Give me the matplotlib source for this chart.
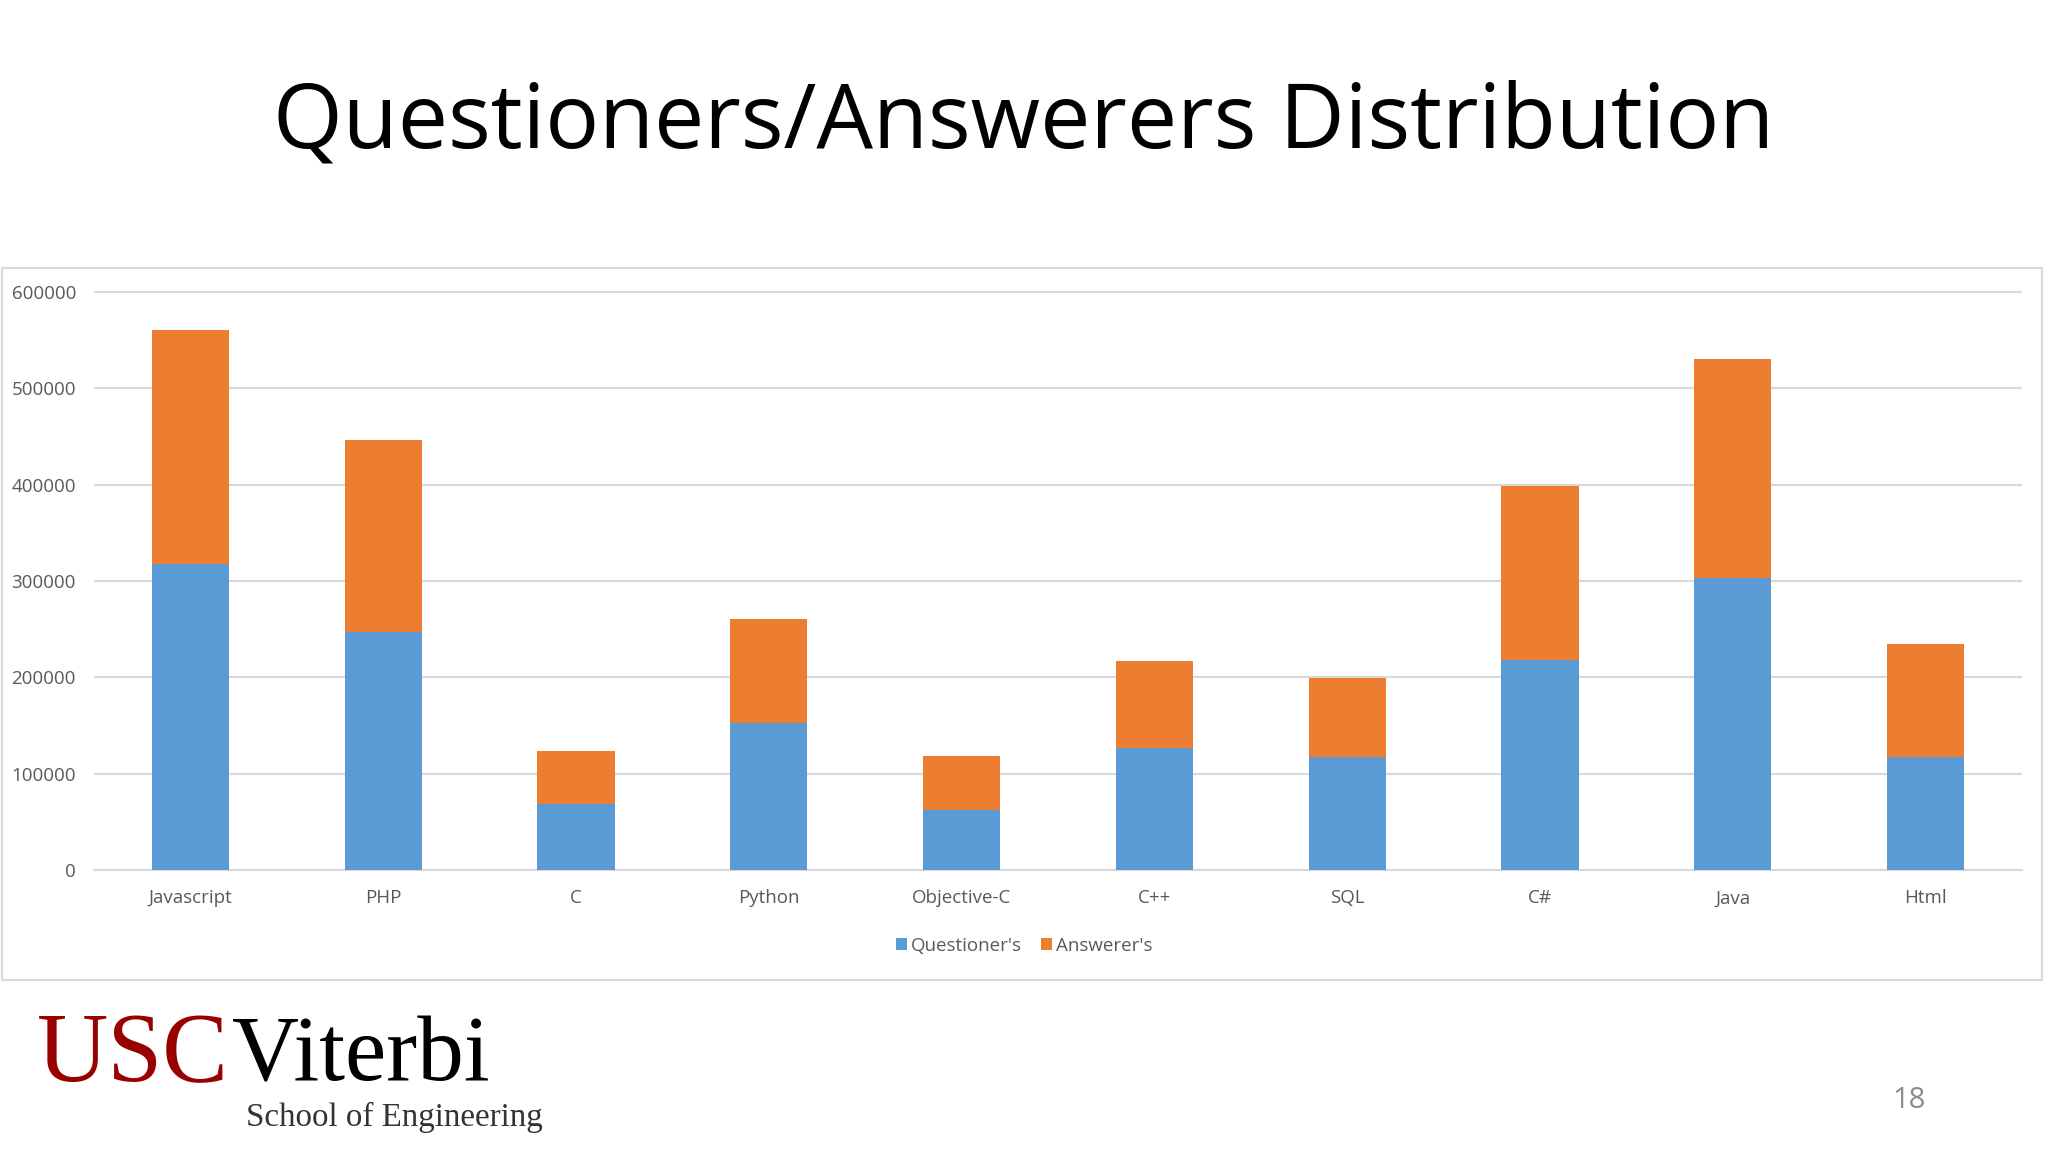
import matplotlib
matplotlib.use("Agg")
import matplotlib.pyplot as plt
from matplotlib.patches import Rectangle

# data
languages = ["Javascript", "PHP", "C", "Python", "Objective-C", "C++", "SQL", "C#", "Java", "Html"]
questioners = [317500, 246800, 68600, 152400, 62700, 127000, 117700, 218000, 303100, 117700]
answerers = [243500, 199900, 55000, 108000, 55800, 90200, 82100, 180800, 227800, 116800]
yticks = [0, 100000, 200000, 300000, 400000, 500000, 600000]

blue = "#5B9BD5"
orange = "#ED7D31"
grey_txt = "#595959"
grid_col = "#D9D9D9"

plt.rcParams["font.family"] = ["Open Sans", "DejaVu Sans"]

fig = plt.figure(figsize=(20.48, 11.52), dpi=100)
fig.patch.set_facecolor("white")

# slide title
fig.text(0.5, 1 - 124 / 1152, "Questioners/Answerers Distribution", ha="center", va="center",
         fontsize=64.5, color="black")

# chart frame
fig.patches.append(Rectangle((0.001, 1 - 980 / 1152), 0.996, (980 - 268) / 1152,
                             transform=fig.transFigure, fill=False,
                             edgecolor=grid_col, linewidth=1.5))

# plot area
ymax = 615000
ax = fig.add_axes([94 / 2048, 282 / 1152, 1928 / 2048, (578 / 1152) * ymax / 600000])
x = range(len(languages))
ax.bar(x, questioners, width=0.4, color=blue, label="Questioner's", zorder=3)
ax.bar(x, answerers, width=0.4, bottom=questioners, color=orange, label="Answerer's", zorder=3)

ax.set_xlim(-0.5, len(languages) - 0.5)
ax.set_ylim(0, ymax)
ax.set_yticks(yticks)
ax.set_yticklabels([str(v) for v in yticks])
ax.set_xticks(list(x))
ax.set_xticklabels(languages)
ax.tick_params(axis="both", length=0, labelsize=13.5, labelcolor=grey_txt)
ax.tick_params(axis="y", pad=13)
ax.tick_params(axis="x", pad=14)
ax.grid(axis="y", color=grid_col, linewidth=1.5, zorder=0)
for side in ["top", "right", "left"]:
    ax.spines[side].set_visible(False)
ax.spines["bottom"].set_color(grid_col)
ax.spines["bottom"].set_linewidth(1.5)

fig.legend(loc="center", bbox_to_anchor=(0.5, 1 - 946 / 1152), ncol=2, frameon=False,
           fontsize=13.5, labelcolor=grey_txt, handlelength=0.6, handleheight=0.6,
           handletextpad=0.2, columnspacing=1.0)

# USC Viterbi logo
fig.text(37 / 2048, 1 - 1081 / 1152, "USC", fontfamily="Liberation Serif", fontsize=71,
         color="#990000", va="baseline", ha="left")
fig.text(232 / 2048, 1 - 1081 / 1152, "Viterbi", fontfamily="Liberation Serif", fontsize=67,
         color="black", va="baseline", ha="left")
fig.text(246 / 2048, 1 - 1117 / 1152, "School of Engineering", fontfamily="Liberation Serif",
         fontsize=23.8, color="#333333", va="center", ha="left")

# slide number
fig.text(1909 / 2048, 1 - 1100 / 1152, "18", fontsize=21, color="#8C8C8C",
         ha="center", va="center")

fig.savefig("out.png", dpi=100)
